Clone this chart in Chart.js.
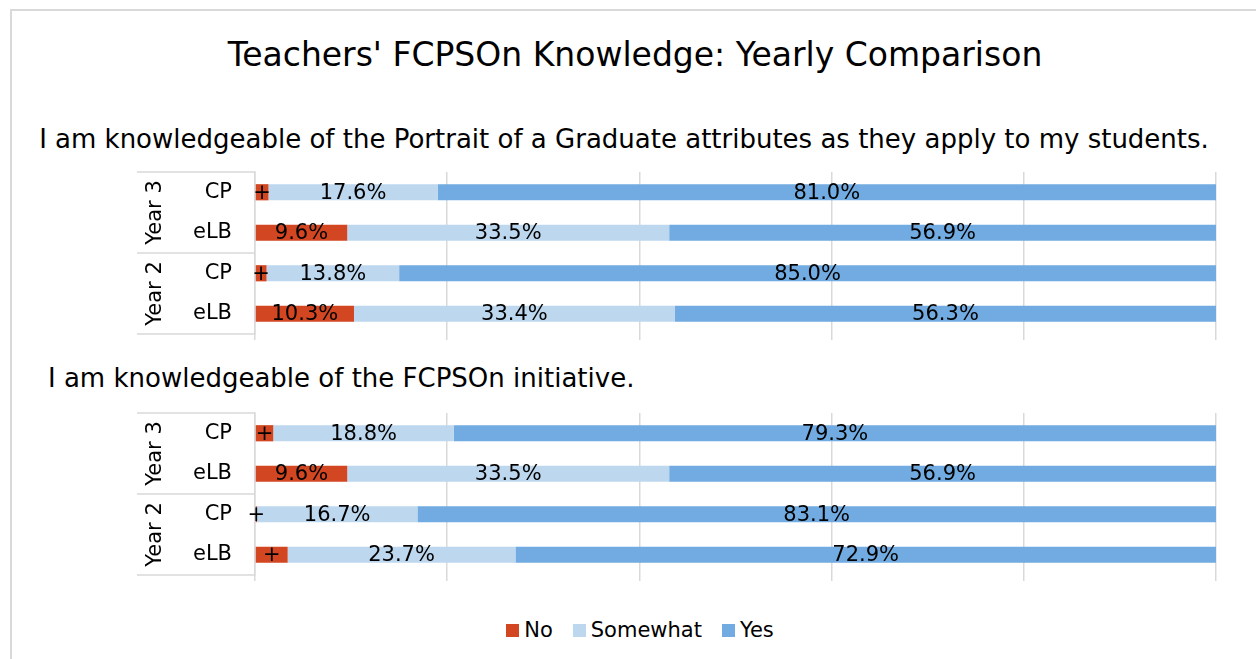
<!DOCTYPE html>
<html>
<head>
<meta charset="utf-8">
<script src="https://cdn.jsdelivr.net/npm/chart.js@4/dist/chart.umd.min.js"></script>
<style>
    body { margin: 0; background: #fff; font-family: 'DejaVu Sans', sans-serif; color: #000; }
    #page { position: relative; width: 1256px; height: 659px; overflow: hidden; }
    #frame { position: absolute; left: 10px; top: 9px; width: 1270px; height: 680px; border: 2px solid #d9d9d9; }
    .txt { position: absolute; white-space: nowrap; }
    #title { left: 0; width: 1270px; text-align: center; top: 36px; font-size: 33px; line-height: 38px; }
    #sub1 { left: 0; width: 1248px; text-align: center; top: 124px; font-size: 26px; line-height: 30px; }
    #sub2 { left: 48px; top: 363px; font-size: 26px; line-height: 30px; }
    .box { position: absolute; left: 0; width: 1256px; }
    #legend { position: absolute; left: 0; width: 1280px; top: 617px; display: flex; justify-content: center; font-size: 21px; line-height: 26px; }
    #legend span.item { display: flex; align-items: center; margin: 0 10px; }
    #legend i { display: inline-block; width: 13px; height: 13px; margin-right: 5px; }
</style>
</head>
<body>
<div id="page">
    <div id="frame"></div>
    <div class="txt" id="title">Teachers' FCPSOn Knowledge: Yearly Comparison</div>
    <div class="txt" id="sub1">I am knowledgeable of the Portrait of a Graduate attributes as they apply to my students.</div>
    <div class="box" style="top:160px;height:184px"><canvas id="chart1"></canvas></div>
    <div class="txt" id="sub2">I am knowledgeable of the FCPSOn initiative.</div>
    <div class="box" style="top:400px;height:185px"><canvas id="chart2"></canvas></div>
    <div id="legend">
        <span class="item"><i style="background:#d24622"></i>No</span>
        <span class="item"><i style="background:#bdd7ee"></i>Somewhat</span>
        <span class="item"><i style="background:#71abe1"></i>Yes</span>
    </div>
</div>
<script>
// 数据
var categories = ['CP', 'eLB', 'CP', 'eLB'];
var groups = ['Year 3', 'Year 2'];
var seriesNames = ['No', 'Somewhat', 'Yes'];
var xTicks = [0, 20, 40, 60, 80, 100];

// I am knowledgeable of the Portrait of a Graduate attributes...
var q1No = [1.4, 9.6, 1.2, 10.3];
var q1Somewhat = [17.6, 33.5, 13.8, 33.4];
var q1Yes = [81.0, 56.9, 85.0, 56.3];

// I am knowledgeable of the FCPSOn initiative.
var q2No = [1.9, 9.6, 0.2, 3.4];
var q2Somewhat = [18.8, 33.5, 16.7, 23.7];
var q2Yes = [79.3, 56.9, 83.1, 72.9];

var colors = ['#d24622', '#bdd7ee', '#71abe1'];
var gridColor = '#d9d9d9';
var fontFamily = "'DejaVu Sans', sans-serif";

// 数据标签
var labelPlugin = {
    id: 'barLabels',
    afterDatasetsDraw: function(chart) {
        var ctx = chart.ctx;
        ctx.save();
        ctx.font = '21px ' + fontFamily;
        ctx.fillStyle = '#000';
        ctx.textAlign = 'center';
        ctx.textBaseline = 'middle';
        chart.data.datasets.forEach(function(ds, di) {
            var meta = chart.getDatasetMeta(di);
            meta.data.forEach(function(bar, i) {
                var v = ds.data[i];
                var text = (di === 0 && v < 5) ? '+' : v.toFixed(1) + '%';
                ctx.fillText(text, (bar.x + bar.base) / 2, bar.y + 1);
            });
        });
        ctx.restore();
    }
};

// 年份分组标签和分隔线
var groupPlugin = {
    id: 'groupAxis',
    afterDraw: function(chart) {
        var ctx = chart.ctx;
        var area = chart.chartArea;
        var y = chart.scales.y;
        var mid = (y.getPixelForValue(1) + y.getPixelForValue(2)) / 2;
        ctx.save();
        ctx.strokeStyle = gridColor;
        ctx.lineWidth = 1.5;
        [area.top, mid, area.bottom].forEach(function(py) {
            ctx.beginPath();
            ctx.moveTo(137, py);
            ctx.lineTo(area.left, py);
            ctx.stroke();
        });
        ctx.font = '21px ' + fontFamily;
        ctx.fillStyle = '#000';
        ctx.textAlign = 'center';
        ctx.textBaseline = 'middle';
        var centers = [(area.top + mid) / 2, (mid + area.bottom) / 2];
        groups.forEach(function(g, i) {
            ctx.save();
            ctx.translate(156, centers[i]);
            ctx.rotate(-Math.PI / 2);
            ctx.fillText(g, 0, 0);
            ctx.restore();
        });
        ctx.restore();
    }
};

function makeChart(id, no, somewhat, yes, topPad) {
    var values = [no, somewhat, yes];
    return new Chart(document.getElementById(id).getContext('2d'), {
        type: 'bar',
        data: {
            labels: categories,
            datasets: seriesNames.map(function(name, i) {
                return {
                    label: name,
                    data: values[i],
                    backgroundColor: colors[i],
                    borderWidth: 0,
                    barPercentage: 0.4,
                    categoryPercentage: 1
                };
            })
        },
        options: {
            indexAxis: 'y',
            responsive: true,
            maintainAspectRatio: false,
            animation: false,
            layout: { padding: { left: 0, right: 40, top: topPad, bottom: 4 } },
            plugins: {
                legend: { display: false },
                tooltip: { enabled: false }
            },
            scales: {
                x: {
                    stacked: true,
                    min: 0,
                    max: 100,
                    afterBuildTicks: function(scale) {
                        scale.ticks = xTicks.map(function(v) { return { value: v }; });
                    },
                    ticks: { display: false },
                    grid: { color: gridColor, lineWidth: 1.5, drawTicks: true, tickLength: 6 },
                    border: { display: false }
                },
                y: {
                    stacked: true,
                    afterFit: function(scale) {
                        scale.width = 255;
                        scale.paddingTop = 0;
                        scale.paddingBottom = 0;
                    },
                    ticks: {
                        color: '#000',
                        padding: 23,
                        font: { family: fontFamily, size: 21 }
                    },
                    grid: { display: false, drawTicks: false },
                    border: { display: true, color: gridColor, width: 1.5 }
                }
            }
        },
        plugins: [labelPlugin, groupPlugin]
    });
}

makeChart('chart1', q1No, q1Somewhat, q1Yes, 12);
makeChart('chart2', q2No, q2Somewhat, q2Yes, 13);
</script>
</body>
</html>
